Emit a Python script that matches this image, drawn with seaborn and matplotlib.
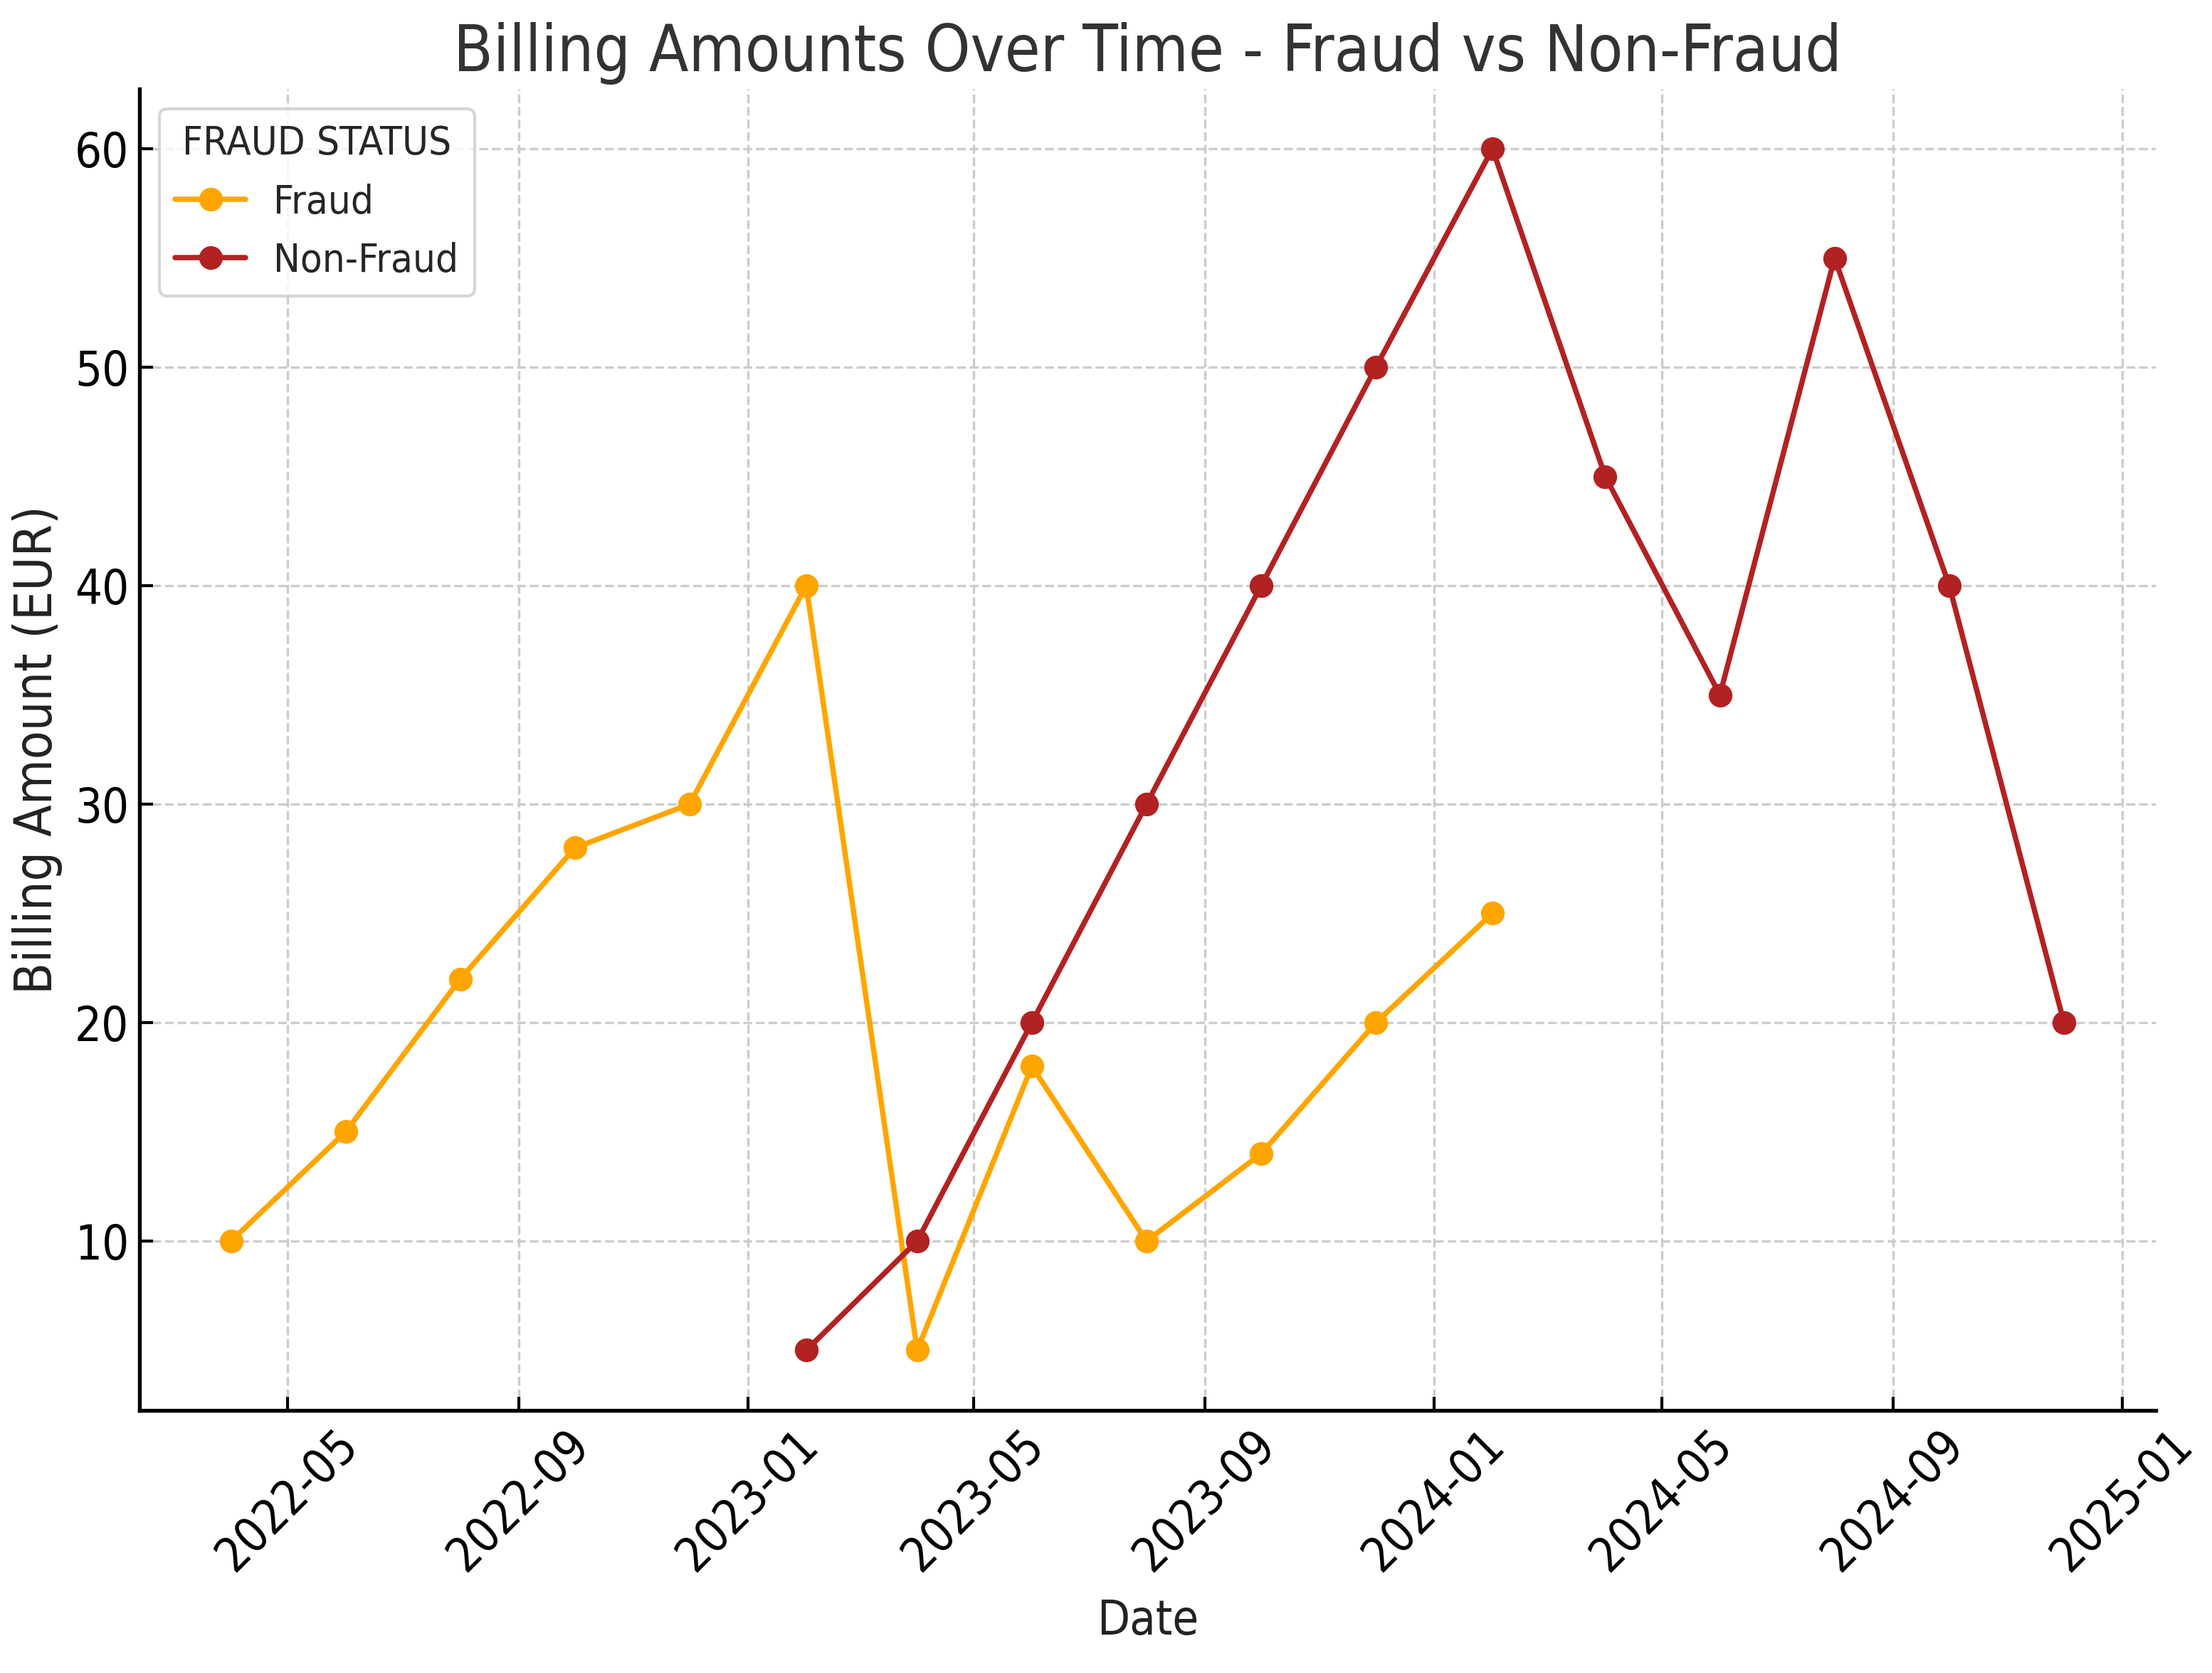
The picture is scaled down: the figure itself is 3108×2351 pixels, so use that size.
import matplotlib
matplotlib.use("Agg")
import matplotlib.pyplot as plt
import matplotlib.dates as mdates
import seaborn as sns
import pandas as pd

fraud_dates = ["2022-04-01", "2022-06-01", "2022-08-01", "2022-10-01", "2022-12-01", "2023-02-01",
               "2023-04-01", "2023-06-01", "2023-08-01", "2023-10-01", "2023-12-01", "2024-02-01"]
fraud_values = [10, 15, 22, 28, 30, 40, 5, 18, 10, 14, 20, 25]

nonfraud_dates = ["2023-02-01", "2023-04-01", "2023-06-01", "2023-08-01", "2023-10-01", "2023-12-01",
                  "2024-02-01", "2024-04-01", "2024-06-01", "2024-08-01", "2024-10-01", "2024-12-01"]
nonfraud_values = [5, 10, 20, 30, 40, 50, 60, 45, 35, 55, 40, 20]

status_labels = ["Fraud", "Non-Fraud"]
colors = ["#FFA500", "#B22222"]

df = pd.concat([
    pd.DataFrame({"Date": pd.to_datetime(fraud_dates), "Billing Amount": fraud_values, "Status": status_labels[0]}),
    pd.DataFrame({"Date": pd.to_datetime(nonfraud_dates), "Billing Amount": nonfraud_values, "Status": status_labels[1]}),
], ignore_index=True)

sns.set_theme(style="whitegrid")
plt.rcParams["font.family"] = ["DejaVu Sans"]
plt.rcParams["font.stretch"] = "condensed"

fig, ax = plt.subplots(figsize=(3108 / 300, 2351 / 300), dpi=300)
sns.lineplot(data=df, x="Date", y="Billing Amount", hue="Status", marker="o",
             palette=dict(zip(status_labels, colors)), hue_order=status_labels,
             linewidth=1.8, markersize=8, markeredgewidth=0, ax=ax)

ax.grid(True, linestyle="--", color="#cccccc", linewidth=0.8)
for s in ["top", "right"]:
    ax.spines[s].set_visible(False)
for s in ["left", "bottom"]:
    ax.spines[s].set_color("black")
    ax.spines[s].set_linewidth(1.3)

ax.tick_params(axis="both", direction="in", length=4.5, width=1, color="black",
               labelsize=16, labelcolor="black", left=True, bottom=True)
ax.xaxis.set_major_locator(mdates.MonthLocator(bymonth=[1, 5, 9]))
ax.xaxis.set_major_formatter(mdates.DateFormatter("%Y-%m"))
plt.setp(ax.get_xticklabels(), rotation=45)

ax.set_title("Billing Amounts Over Time - Fraud vs Non-Fraud", fontsize=21.7, color="#333333")
ax.set_xlabel("Date", fontsize=16, color="#222222", labelpad=6)
ax.set_ylabel("Billing Amount (EUR)", fontsize=17.5, color="#222222")

leg = ax.legend(title="FRAUD STATUS", loc="upper left", fontsize=13.5, title_fontsize=13.5,
                frameon=True, handlelength=1.75, handletextpad=0.7)
leg.get_frame().set_edgecolor("#cccccc")

fig.subplots_adjust(left=0.063, right=0.9745, top=0.947, bottom=0.157)
fig.savefig("out.png", dpi=300)
